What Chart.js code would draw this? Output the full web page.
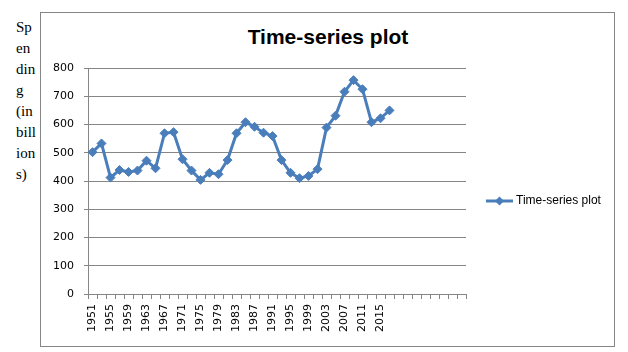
<!DOCTYPE html>
<html>
<head>
<meta charset="utf-8">
<script src="https://cdn.jsdelivr.net/npm/chart.js@4.4.1/dist/chart.umd.min.js"></script>
<style>
  html, body { margin: 0; padding: 0; background: #fff; }
  #wrap { position: relative; width: 628px; height: 352px; overflow: hidden; }
  #frame { position: absolute; left: 40px; top: 12px; width: 575px; height: 335px; border: 1px solid #868686; box-sizing: border-box; }
  #c { position: absolute; left: 0; top: 0; }
  #title { position: absolute; left: 0; width: 656px; top: 25px; text-align: center; font: bold 21px "Liberation Sans", Arial, sans-serif; color: #000; white-space: nowrap; }
  #ylab { position: absolute; left: 16px; top: 17px; font: 15px/21px "Liberation Serif", "Times New Roman", serif; color: #000; }
</style>
</head>
<body>
<div id="wrap">
  <div id="frame"></div>
  <div id="ylab">Sp<br>en<br>din<br>g<br>(in<br>bill<br>ion<br>s)</div>
  <div id="title">Time-series plot</div>
  <canvas id="c" width="628" height="352"></canvas>
</div>
<script>
const seriesName = 'Time-series plot';
const years = ['1951','1953','1955','1957','1959','1961','1963','1965','1967','1969',
  '1971','1973','1975','1977','1979','1981','1983','1985','1987','1989',
  '1991','1993','1995','1997','1999','2001','2003','2005','2007','2009',
  '2011','2013','2015','2017','2019','2021','2023','2025','2027','2029','2031','2033'];
const xTickLabels = ['1951','','1955','','1959','','1963','','1967','',
  '1971','','1975','','1979','','1983','','1987','',
  '1991','','1995','','1999','','2003','','2007','',
  '2011','','2015','','','','','','','','',''];
const spending = [502, 533, 412, 439, 432, 437, 472, 445, 569, 573,
  477, 437, 404, 429, 424, 474, 569, 608, 592, 571,
  559, 474, 429, 410, 418, 442, 589, 631, 716, 757,
  725, 608, 622, 650];
const yTicks = [0, 100, 200, 300, 400, 500, 600, 700, 800];

const blue = '#4A7EBB';
const gray = '#868686';

const legendPlugin = {
  id: 'customLegend',
  afterDraw(chart) {
    const ctx = chart.ctx;
    const y = 201;
    ctx.save();
    ctx.strokeStyle = blue;
    ctx.lineWidth = 3;
    ctx.beginPath();
    ctx.moveTo(486, y);
    ctx.lineTo(513, y);
    ctx.stroke();
    ctx.fillStyle = blue;
    ctx.beginPath();
    const cx = 499.5, r = 4.5;
    ctx.moveTo(cx, y - r); ctx.lineTo(cx + r, y); ctx.lineTo(cx, y + r); ctx.lineTo(cx - r, y);
    ctx.closePath();
    ctx.fill();
    ctx.fillStyle = '#000';
    ctx.font = '12px "Liberation Sans", Arial, sans-serif';
    ctx.textBaseline = 'middle';
    ctx.textAlign = 'left';
    ctx.fillText(chart.data.datasets[0].label, 516, y);
    ctx.restore();
  }
};

new Chart(document.getElementById('c'), {
  type: 'line',
  data: {
    labels: years,
    datasets: [{
      label: seriesName,
      data: spending,
      borderColor: blue,
      backgroundColor: blue,
      borderWidth: 3,
      tension: 0,
      pointStyle: 'rectRot',
      pointRadius: 4.5,
      pointHoverRadius: 4.5,
      pointBackgroundColor: blue,
      pointBorderColor: blue,
      pointBorderWidth: 1,
      fill: false
    }]
  },
  options: {
    responsive: false,
    devicePixelRatio: 1,
    animation: false,
    events: [],
    layout: { padding: { left: 48, right: 162, top: 68, bottom: 0 } },
    plugins: { legend: { display: false }, title: { display: false }, tooltip: { enabled: false } },
    scales: {
      x: {
        type: 'category',
        offset: true,
        afterFit(s) { s.height = 58; },
        grid: { offset: true, drawOnChartArea: false, drawTicks: true, tickLength: 5, color: gray, lineWidth: 1 },
        border: { color: gray, width: 1 },
        ticks: {
          autoSkip: false,
          minRotation: 90,
          maxRotation: 90,
          padding: 5,
          color: '#000',
          font: { family: '"DejaVu Sans", Verdana, sans-serif', size: 11 },
          callback(value, index) { return xTickLabels[index]; }
        }
      },
      y: {
        min: 0,
        max: 800,
        afterFit(s) { s.width = 40; },
        afterBuildTicks(s) { s.ticks = yTicks.map(v => ({ value: v })); },
        grid: { color: gray, lineWidth: 1, drawTicks: true, tickLength: 4 },
        border: { color: gray, width: 1 },
        ticks: {
          padding: 10,
          color: '#000',
          font: { family: '"DejaVu Sans", Verdana, sans-serif', size: 11 }
        }
      }
    }
  },
  plugins: [legendPlugin]
});
</script>
</body>
</html>
